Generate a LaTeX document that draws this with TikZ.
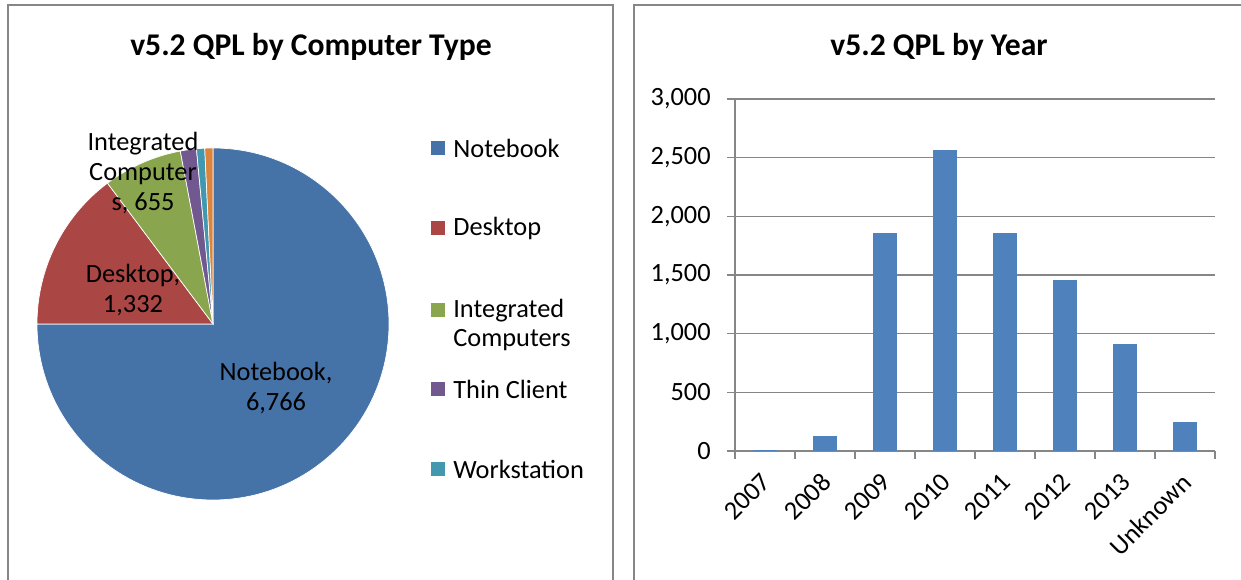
\documentclass[tikz,border=0pt]{standalone}
\usepackage{fontspec}
\setmainfont{Carlito}
\definecolor{nbblue}{HTML}{4572A7}
\definecolor{dkred}{HTML}{AA4643}
\definecolor{icgreen}{HTML}{89A54E}
\definecolor{tcpurple}{HTML}{71588F}
\definecolor{wsteal}{HTML}{4198AF}
\definecolor{otorange}{HTML}{DB843D}
\definecolor{barblue}{HTML}{4F81BD}
\definecolor{axisgray}{HTML}{868686}
\tikzset{
	frame/.style={draw=axisgray, line width=1.2pt},
	charttitle/.style={font=\fontsize{18}{21}\selectfont\bfseries},
	lbl/.style={font=\fontsize{15}{17}\selectfont, inner sep=0pt},
	slice/.style={draw=white, line width=0.4pt}
}
\begin{document}
\begin{tikzpicture}[x=0.02cm, y=0.02cm]
	\useasboundingbox (0,0) rectangle (1241,580);
	% left chart: pie by computer type
	\begin{scope}
		\draw[frame] (8,-10) -- (8,575) -- (613,575) -- (613,-10);
		\node[charttitle] (ptitle) at (311,533) {v5.2 QPL by Computer Type};
		\coordinate (c) at (213,256);
		\fill[nbblue, slice] (c) -- ++(90:176) arc (90:-180:176) -- cycle;
		\fill[dkred, slice] (c) -- ++(180:176) arc (180:126.85:176) -- cycle;
		\fill[icgreen, slice] (c) -- ++(126.85:176) arc (126.85:100.71:176) -- cycle;
		\fill[tcpurple, slice] (c) -- ++(100.71:176) arc (100.71:95.4:176) -- cycle;
		\fill[wsteal, slice] (c) -- ++(95.4:176) arc (95.4:92.69:176) -- cycle;
		\fill[otorange, slice] (c) -- ++(92.69:176) arc (92.69:90:176) -- cycle;
		\node[lbl, align=center] (nblab) at (276,192) {Notebook,\\6,766};
		\node[lbl, align=center] (dklab) at (133,290) {Desktop,\\1,332};
		\node[lbl, align=center] (iclab) at (143,407) {Integrated\\Computer\\s, 655};
		% legend
		\fill[nbblue] (431,425) rectangle ++(14,14);
		\node[lbl, anchor=west] (leg1) at (453,432) {Notebook};
		\fill[dkred] (431,345) rectangle ++(14,14);
		\node[lbl, anchor=west] (leg2) at (453,352) {Desktop};
		\fill[icgreen] (431,263) rectangle ++(14,14);
		\node[lbl, anchor=west, align=left] (leg3) at (453,255) {Integrated\\Computers};
		\fill[tcpurple] (431,184) rectangle ++(14,14);
		\node[lbl, anchor=west] (leg4) at (453,191) {Thin Client};
		\fill[wsteal] (431,104) rectangle ++(14,14);
		\node[lbl, anchor=west] (leg5) at (453,111) {Workstation};
	\end{scope}
	% right chart: bars by year
	\begin{scope}
		\draw[frame] (634,-10) -- (634,575) -- (1250,575);
		\node[charttitle] (btitle) at (939,533) {v5.2 QPL by Year};
		\foreach \v/\t in {0/0,500/500,1000/{1,000},1500/{1,500},2000/{2,000},2500/{2,500},3000/{3,000}} {
			\draw[axisgray, line width=0.8pt] (727,129+\v*0.11733) -- (1215,129+\v*0.11733);
			\node[lbl, anchor=east] (y\v) at (711,129+\v*0.11733) {\t};
		}
		\draw[axisgray, line width=0.8pt] (735,129) -- (735,481);
		\foreach \i in {0,...,8}
			\draw[axisgray, line width=0.8pt] (735+60*\i,129) -- (735+60*\i,121);
		\foreach \v/\yr [count=\i from 0] in {10/2007,130/2008,1860/2009,2565/2010,1855/2011,1460/2012,915/2013,245/Unknown} {
			\fill[barblue] (753+60*\i,129) rectangle ++(24,\v*0.11733);
			\node[lbl, rotate=45, anchor=north east] (x\i) at (760+60*\i,109) {\yr};
		}
	\end{scope}
\end{tikzpicture}
\end{document}
